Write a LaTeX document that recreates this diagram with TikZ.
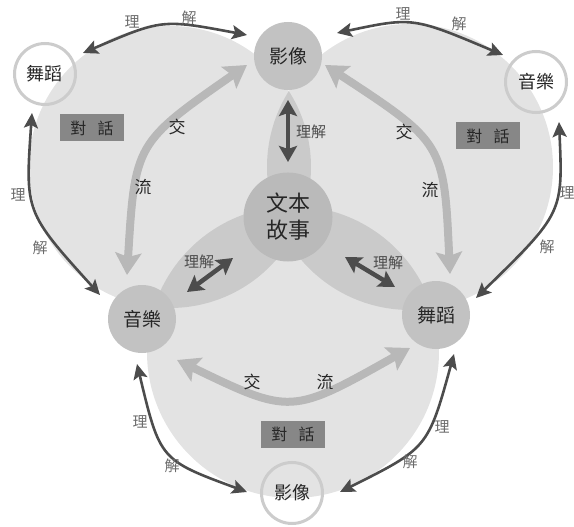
\documentclass[tikz,border=0pt]{standalone}
\usepackage{fontspec}
\newfontfamily\cjk{Noto Sans CJK TC}
\usetikzlibrary{arrows.meta}
\definecolor{darkarrow}{gray}{0.30}
\definecolor{lightarrow}{gray}{0.72}
\definecolor{innerfill}{gray}{0.76}
\definecolor{centerfill}{gray}{0.73}
\definecolor{ringcol}{gray}{0.80}
\definecolor{boxfill}{gray}{0.53}
\definecolor{labelgray}{gray}{0.42}
\definecolor{textdark}{gray}{0.15}
\begin{document}
\begin{tikzpicture}[x=1pt,y=-1pt,
  petal/.style={fill=black,fill opacity=0.11,draw=none},
  whitebg/.style={circle,fill=white,draw=none,minimum size=64pt,inner sep=0pt},
  ringnode/.style={circle,draw=ringcol,line width=3pt,minimum size=61pt,inner sep=0pt,text=textdark,font=\cjk\fontsize{18}{18}\selectfont},
  innernode/.style={circle,fill=innerfill,minimum size=68pt,inner sep=0pt,text=textdark,font=\cjk\fontsize{19}{19}\selectfont},
  centernode/.style={circle,fill=centerfill,minimum size=89pt,inner sep=0pt,text=textdark,align=center,font=\cjk\fontsize{22}{27}\selectfont},
  darkarc/.style={draw=darkarrow,line width=2.6pt,>={Stealth[length=15pt,width=14pt,inset=3pt]},<->},
  darkshort/.style={draw=darkarrow,line width=4.5pt,>={Stealth[length=16pt,width=18pt,inset=3pt]},<->},
  lightarc/.style={draw=lightarrow,line width=8pt,>={Stealth[length=22pt,width=26pt,inset=4pt]},<->},
  lbl/.style={inner sep=0pt,text=labelgray,font=\cjk\fontsize{15}{15}\selectfont},
  clbl/.style={inner sep=0pt,text=black!70,font=\cjk\fontsize{15}{15}\selectfont},
  flow/.style={inner sep=0pt,text=textdark,font=\cjk\fontsize{17}{17}\selectfont},
  dbox/.style={fill=boxfill,minimum width=64pt,minimum height=27pt,inner sep=0pt,text=black!85,font=\cjk\fontsize{16}{16}\selectfont}
]
\useasboundingbox (0,0) rectangle (574,527);
% white backgrounds of outer circles
\node[whitebg] (wTL) at (45,74) {};
\node[whitebg] (wTR) at (536,82) {};
\node[whitebg] (wB) at (292,493) {};
% petals
\path[petal] (170,167) circle (141);
\path[petal] (410,167) circle (143);
\path[petal] (293,352) circle (146);
% outer ring nodes
\node[ringnode] (oTL) at (45,74) {舞蹈};
\node[ringnode] (oTR) at (536,82) {音樂};
\node[ringnode] (oB) at (292,493) {影像};
% inner nodes
\node[innernode] (nT) at (288,56) {影像};
\node[innernode] (nL) at (142,319) {音樂};
\node[innernode] (nR) at (436,315) {舞蹈};
\node[centernode] (nC) at (288,217) {文本\\故事};
% outer dark arcs
\coordinate (a1s) at (83,53);  \coordinate (a1c) at (162,19);  \coordinate (a1e) at (247,35);
\coordinate (a2s) at (337,33); \coordinate (a2c) at (413,17);  \coordinate (a2e) at (503,55);
\coordinate (a3s) at (32,113); \coordinate (a3c) at (25,212);  \coordinate (a3e) at (100,295);
\coordinate (a4s) at (559,122);\coordinate (a4c) at (563,213); \coordinate (a4e) at (476,298);
\coordinate (a5s) at (137,364);\coordinate (a5c) at (160,460); \coordinate (a5e) at (247,492);
\coordinate (a6s) at (454,354);\coordinate (a6c) at (428,448); \coordinate (a6e) at (340,492);
\draw[darkarc] (a1s) .. controls (a1c) .. (a1e);
\draw[darkarc] (a2s) .. controls (a2c) .. (a2e);
\draw[darkarc] (a3s) .. controls (a3c) .. (a3e);
\draw[darkarc] (a4s) .. controls (a4c) .. (a4e);
\draw[darkarc] (a5s) .. controls (a5c) .. (a5e);
\draw[darkarc] (a6s) .. controls (a6c) .. (a6e);
% light exchange arcs
\coordinate (l1s) at (127,275); \coordinate (l1c) at (135,143); \coordinate (l1e) at (247,65);
\coordinate (l2s) at (325,65);  \coordinate (l2c) at (444,143); \coordinate (l2e) at (450,274);
\coordinate (l3s) at (177,360); \coordinate (l3c) at (291,415); \coordinate (l3e) at (410,348);
\draw[lightarc] (l1s) .. controls (l1c) .. (l1e);
\draw[lightarc] (l2s) .. controls (l2c) .. (l2e);
\draw[lightarc] (l3s) .. controls (l3c) .. (l3e);
% short understanding arrows around centre
\coordinate (c1s) at (288,100); \coordinate (c1e) at (288,162);
\coordinate (c2s) at (187,292); \coordinate (c2e) at (233,258);
\coordinate (c3s) at (345,257); \coordinate (c3e) at (395,287);
\draw[darkshort] (c1s) -- (c1e);
\draw[darkshort] (c2s) -- (c2e);
\draw[darkshort] (c3s) -- (c3e);
% labels on outer arcs
\node[lbl] (t1a) at (132,22) {理}; \node[lbl] (t1b) at (189,18) {解};
\node[lbl] (t2a) at (403,14) {理}; \node[lbl] (t2b) at (459,24) {解};
\node[lbl] (t3a) at (18,195) {理};  \node[lbl] (t3b) at (40,248) {解};
\node[lbl] (t4a) at (567,193) {理}; \node[lbl] (t4b) at (547,247) {解};
\node[lbl] (t5a) at (140,422) {理}; \node[lbl] (t5b) at (172,466) {解};
\node[lbl] (t6a) at (442,427) {理}; \node[lbl] (t6b) at (410,462) {解};
% centre labels
\node[clbl] (u1) at (311,132) {理解};
\node[clbl] (u2) at (199,262) {理解};
\node[clbl] (u3) at (388,263) {理解};
% exchange labels
\node[flow] (f1a) at (177,127) {交}; \node[flow] (f1b) at (143,187) {流};
\node[flow] (f2a) at (404,132) {交}; \node[flow] (f2b) at (430,190) {流};
\node[flow] (f3a) at (252,382) {交}; \node[flow] (f3b) at (325,382) {流};
% dialogue boxes
\node[dbox] (d1) at (92,128) {對\hspace{0.7em}話};
\node[dbox] (d2) at (488,136) {對\hspace{0.7em}話};
\node[dbox] (d3) at (293,434) {對\hspace{0.7em}話};
\end{tikzpicture}
\end{document}
